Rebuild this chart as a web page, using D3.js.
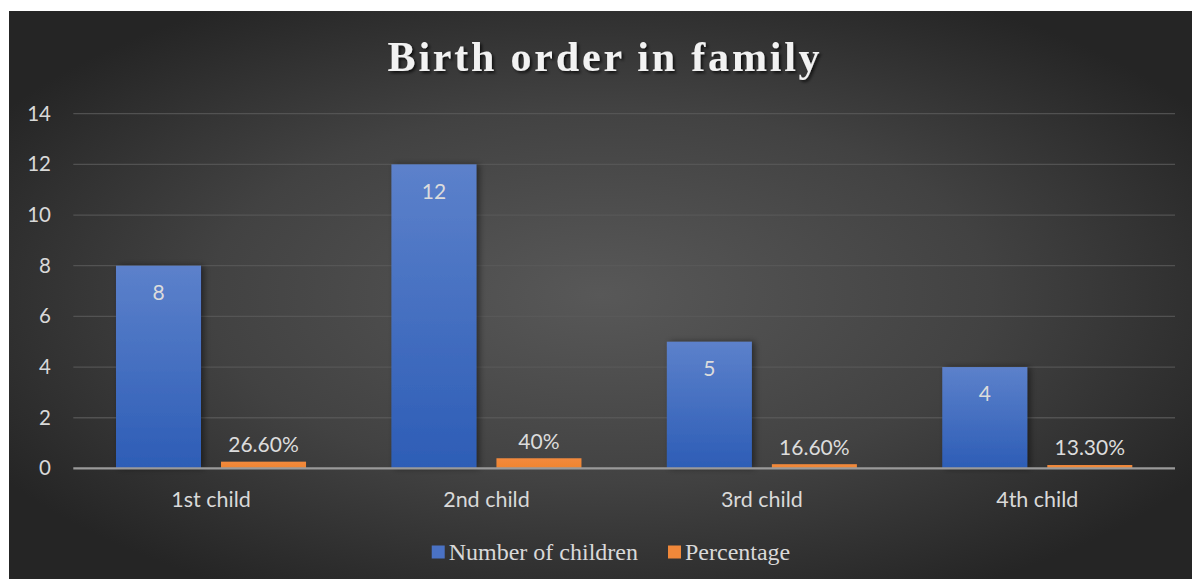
<!DOCTYPE html>
<html>
<head>
<meta charset="utf-8">
<script src="https://cdn.jsdelivr.net/npm/d3@7"></script>
<style>
  html, body { margin: 0; padding: 0; background: #ffffff; }
  svg { display: block; }
</style>
</head>
<body>
<svg id="chart" width="1192" height="579"></svg>
<script>
const categories = ["1st child", "2nd child", "3rd child", "4th child"];
const numberOfChildren = [8, 12, 5, 4];
const percentage = [0.266, 0.40, 0.166, 0.133];
const percentageLabels = ["26.60%", "40%", "16.60%", "13.30%"];
const seriesNames = ["Number of children", "Percentage"];
const yTicks = [0, 2, 4, 6, 8, 10, 12, 14];
const title = "Birth order in family";

const W = 1192, H = 579;
const svg = d3.select("#chart");
const defs = svg.append("defs");

const bg = defs.append("radialGradient").attr("id", "bg")
  .attr("cx", "50%").attr("cy", "50%").attr("r", "60%");
bg.append("stop").attr("offset", "0%").attr("stop-color", "#585858");
bg.append("stop").attr("offset", "55%").attr("stop-color", "#424242");
bg.append("stop").attr("offset", "100%").attr("stop-color", "#252525");

const blueG = defs.append("linearGradient").attr("id", "blueG")
  .attr("x1", 0).attr("y1", 0).attr("x2", 0).attr("y2", 1);
blueG.append("stop").attr("offset", "0%").attr("stop-color", "#5c81cb");
blueG.append("stop").attr("offset", "100%").attr("stop-color", "#2d5db6");

const orangeG = defs.append("linearGradient").attr("id", "orangeG")
  .attr("x1", 0).attr("y1", 0).attr("x2", 0).attr("y2", 1);
orangeG.append("stop").attr("offset", "0%").attr("stop-color", "#f28a3e");
orangeG.append("stop").attr("offset", "100%").attr("stop-color", "#f0842f");

const sh = defs.append("filter").attr("id", "barShadow")
  .attr("x", "-20%").attr("y", "-5%").attr("width", "150%").attr("height", "110%");
sh.append("feDropShadow").attr("dx", 3).attr("dy", 0).attr("stdDeviation", 3)
  .attr("flood-color", "#000").attr("flood-opacity", 0.45);

const tsh = defs.append("filter").attr("id", "titleShadow")
  .attr("x", "-5%").attr("y", "-20%").attr("width", "110%").attr("height", "150%");
tsh.append("feDropShadow").attr("dx", 2).attr("dy", 2).attr("stdDeviation", 1.5)
  .attr("flood-color", "#000").attr("flood-opacity", 0.7);

// chart background box
svg.append("rect").attr("x", 9).attr("y", 11).attr("width", W - 9).attr("height", H - 11)
  .attr("fill", "url(#bg)");

const plot = { left: 73.3, right: 1175, top: 113.7, bottom: 468.4 };

const x0 = d3.scaleBand().domain(categories).range([plot.left, plot.right])
  .paddingInner(0.31).paddingOuter(0.155);
const x1 = d3.scaleBand().domain(seriesNames).range([0, x0.bandwidth()]).paddingInner(0.1905);
const y = d3.scaleLinear().domain([0, 14]).range([plot.bottom, plot.top]);

// gridlines
svg.append("g").selectAll("line").data(yTicks.filter(t => t > 0)).join("line")
  .attr("x1", plot.left).attr("x2", plot.right)
  .attr("y1", d => y(d)).attr("y2", d => y(d))
  .attr("stroke", "#5a5a5a").attr("stroke-width", 1.3).attr("stroke-opacity", 0.8);

const lblFont = "Lato, 'Open Sans', sans-serif";

// y axis labels
const yAxis = d3.axisLeft(y).tickValues(yTicks).tickSize(0).tickPadding(0);
const ya = svg.append("g").attr("transform", `translate(51,0)`).call(yAxis);
ya.select(".domain").remove();
ya.selectAll("text").attr("fill", "#d9d9d9").attr("font-family", lblFont)
  .attr("font-size", 20.5);

// bars
const groups = svg.append("g").selectAll("g").data(categories).join("g")
  .attr("transform", d => `translate(${x0(d)},0)`);

groups.append("rect")
  .attr("x", x1(seriesNames[0])).attr("width", x1.bandwidth())
  .attr("y", (d, i) => y(numberOfChildren[i]))
  .attr("height", (d, i) => y(0) - y(numberOfChildren[i]))
  .attr("fill", "url(#blueG)").attr("filter", "url(#barShadow)");

groups.append("rect")
  .attr("x", x1(seriesNames[1])).attr("width", x1.bandwidth())
  .attr("y", (d, i) => y(percentage[i]))
  .attr("height", (d, i) => y(0) - y(percentage[i]))
  .attr("fill", "url(#orangeG)");

// zero axis line
svg.append("line").attr("x1", plot.left).attr("x2", plot.right)
  .attr("y1", y(0)).attr("y2", y(0))
  .attr("stroke", "#9a9a9a").attr("stroke-width", 2.2);

// data labels
groups.append("text")
  .attr("x", x1(seriesNames[0]) + x1.bandwidth() / 2)
  .attr("y", (d, i) => y(numberOfChildren[i]) + 27)
  .attr("dy", "0.35em").attr("text-anchor", "middle")
  .attr("fill", "#dcdcdc").attr("font-family", lblFont).attr("font-size", 21)
  .text((d, i) => numberOfChildren[i]);

groups.append("text")
  .attr("x", x1(seriesNames[1]) + x1.bandwidth() / 2)
  .attr("y", (d, i) => y(percentage[i]) - 17)
  .attr("dy", "0.35em").attr("text-anchor", "middle")
  .attr("fill", "#dcdcdc").attr("font-family", lblFont).attr("font-size", 21)
  .text((d, i) => percentageLabels[i]);

// x axis labels
const xAxis = d3.axisBottom(x0).tickSize(0).tickPadding(0);
const xa = svg.append("g").attr("transform", `translate(0,499)`).call(xAxis);
xa.select(".domain").remove();
xa.selectAll("text").attr("fill", "#d9d9d9").attr("font-family", lblFont)
  .attr("font-size", 21.5).attr("dy", "0.35em");

// title
svg.append("text").attr("x", 605).attr("y", 71).attr("text-anchor", "middle")
  .attr("font-family", "'Liberation Serif', 'Times New Roman', serif")
  .attr("font-weight", "bold").attr("font-size", 42).attr("letter-spacing", 2.8)
  .attr("fill", "#f2f2f2").attr("filter", "url(#titleShadow)")
  .text(title);

// legend
const leg = svg.append("g");
const legFont = "'Liberation Serif', 'Times New Roman', serif";
let items = seriesNames.map((n, i) => {
  const g = leg.append("g");
  g.append("rect").attr("width", 13).attr("height", 13).attr("y", -6.5)
    .attr("fill", i === 0 ? "#4a72c4" : "#f0883a");
  const t = g.append("text").attr("x", 17).attr("dy", "0.35em")
    .attr("font-family", legFont).attr("font-size", 24).attr("fill", "#d9d9d9").text(n);
  return { g, w: 17 + t.node().getComputedTextLength() };
});
const gap = 30;
const total = items.reduce((s, it) => s + it.w, 0) + gap * (items.length - 1);
let cx = 611 - total / 2;
items.forEach(it => { it.g.attr("transform", `translate(${cx},552)`); cx += it.w + gap; });
</script>
</body>
</html>
